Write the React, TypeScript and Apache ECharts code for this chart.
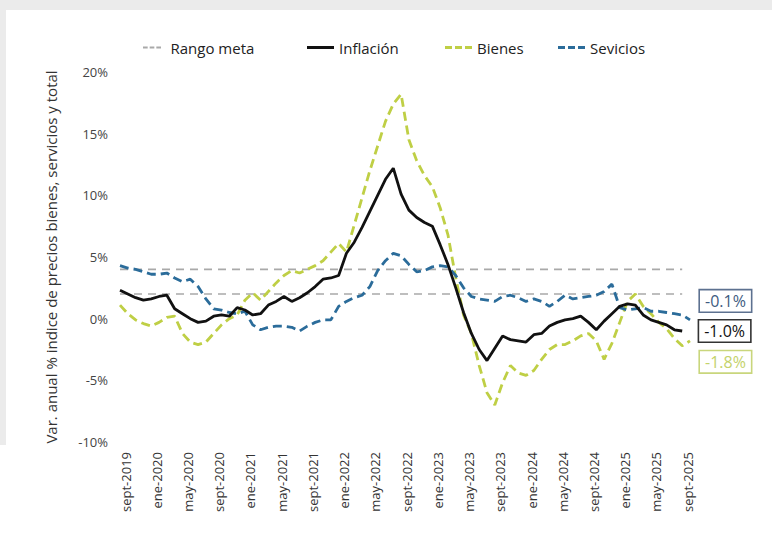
import React, { useEffect, useRef } from "react";
import * as echarts from "echarts";

const monthNames = ["ene", "feb", "mar", "abr", "may", "jun", "jul", "ago", "sept", "oct", "nov", "dic"];
// Sept 2019 .. Oct 2025 (74 months)
const categories: string[] = [];
for (let k = 0; k < 74; k++) {
  const m = (8 + k) % 12;
  const y = 2019 + Math.floor((8 + k) / 12);
  categories.push(`${monthNames[m]}-${y}`);
}

const inflacion: (number | null)[] = [
  2.3, 2.0, 1.7, 1.5, 1.6, 1.8, 1.9, 0.8, 0.4, 0.0,
  -0.3, -0.2, 0.2, 0.3, 0.2, 0.9, 0.7, 0.3, 0.4, 1.1,
  1.4, 1.8, 1.4, 1.7, 2.1, 2.6, 3.2, 3.3, 3.5, 5.3,
  6.2, 7.4, 8.7, 10.0, 11.3, 12.2, 10.1, 8.8, 8.2, 7.8,
  7.5, 6.0, 4.4, 2.5, 0.5, -1.2, -2.5, -3.4, -2.4, -1.4,
  -1.7, -1.8, -1.9, -1.3, -1.2, -0.6, -0.3, -0.1, 0.0, 0.2,
  -0.3, -0.9, -0.2, 0.4, 1.0, 1.2, 1.1, 0.3, -0.1, -0.3,
  -0.5, -0.9, -1.0, null,
];

const bienes: number[] = [
  1.1, 0.4, -0.1, -0.4, -0.6, -0.3, 0.1, 0.2, -1.2, -1.9,
  -2.1, -1.9, -1.2, -0.5, 0.0, 0.3, 1.5, 2.1, 1.5, 2.2,
  2.9, 3.5, 3.9, 3.7, 4.0, 4.3, 4.7, 5.4, 6.1, 5.4,
  7.6, 9.8, 12.0, 14.0, 16.0, 17.4, 18.2, 14.5, 12.8, 11.6,
  10.7, 9.0, 6.8, 3.3, 0.3, -1.2, -3.8, -6.0, -7.0, -5.2,
  -3.8, -4.4, -4.6, -4.2, -3.3, -2.5, -2.1, -2.1, -1.8, -1.4,
  -1.2, -1.8, -3.3, -2.0, -0.3, 1.4, 2.0, 1.0, 0.4, -0.3,
  -0.8, -1.6, -2.2, -1.8,
];

const servicios: number[] = [
  4.3, 4.1, 4.0, 3.8, 3.6, 3.6, 3.7, 3.3, 3.0, 3.2,
  2.6, 1.6, 0.8, 0.7, 0.5, 0.4, 0.6, -0.5, -0.9, -0.7,
  -0.6, -0.6, -0.7, -1.0, -0.6, -0.3, -0.1, -0.1, 1.0, 1.4,
  1.7, 1.9, 2.6, 3.9, 4.7, 5.3, 5.1, 4.4, 3.8, 3.9,
  4.2, 4.3, 4.2, 3.5, 2.5, 1.8, 1.6, 1.5, 1.4, 1.8,
  1.9, 1.7, 1.4, 1.6, 1.4, 1.0, 1.4, 1.9, 1.6, 1.7,
  1.8, 1.9, 2.2, 2.8, 0.9, 0.7, 0.8, 0.9, 0.6, 0.6,
  0.5, 0.4, 0.3, -0.1,
];

const rangoMetaSup = 4;
const rangoMetaInf = 2;
const yTicks = { min: -10, max: 20, interval: 5 };
const legendNames = ["Rango meta", "Inflación", "Bienes", "Sevicios"];

const FONT = "'Open Sans', sans-serif";
const C_BIENES = "#bfcf45";
const C_SERV = "#2b6c9a";
const C_META = "#a9a9a9";
const C_INF = "#111111";

const DASH_ICON = "path://M0,0h7v3h-7z M10,0h7v3h-7z M20,0h7v3h-7z";
const SOLID_ICON = "path://M0,0h27v3h-27z";

export default function App() {
  const ref = useRef<HTMLDivElement>(null);
  useEffect(() => {
    if (!ref.current) return;
    const chart = echarts.init(ref.current, null, { renderer: "svg" });
    const metaLine = (v: number) =>
      categories.map((_, i) => (i <= 72 ? v : null));
    const pct = (p: any) => `${Number(p.value).toFixed(1)}%`;
    const legendLefts = [138, 302, 440, 553];
    const legendIcons = [DASH_ICON, SOLID_ICON, DASH_ICON, DASH_ICON];
    const legendIconH = [2, 3, 3, 3];
    const endLabelBase = {
      show: true,
      formatter: pct,
      fontSize: 16,
      fontFamily: FONT,
      borderWidth: 1.6,
      padding: [3, 5, 2, 5],
      backgroundColor: "#fff",
    };
    chart.setOption({
      animation: false,
      backgroundColor: "#ffffff",
      textStyle: { fontFamily: FONT },
      graphic: [
        { type: "rect", left: 0, top: 0, shape: { width: 772, height: 10 }, style: { fill: "#ebebeb" }, silent: true },
        { type: "rect", left: 0, top: 0, shape: { width: 6, height: 445 }, style: { fill: "#ebebeb" }, silent: true },
      ],
      legend: legendNames.map((n, k) => ({
        left: legendLefts[k],
        top: 35,
        itemWidth: 27,
        itemHeight: legendIconH[k],
        itemGap: 0,
        textStyle: { fontSize: 15, color: "#222", fontFamily: FONT },
        data: [{ name: n, icon: legendIcons[k] }],
      })),
      grid: { left: 120, right: 82, top: 72, bottom: 98, containLabel: false },
      xAxis: {
        type: "category",
        data: categories,
        boundaryGap: false,
        axisLine: { show: false },
        axisTick: { show: false },
        axisLabel: {
          interval: 3,
          rotate: 90,
          margin: 10,
          fontSize: 13,
          color: "#333",
          fontFamily: FONT,
          verticalAlign: "top",
          lineHeight: 11,
        },
        splitLine: { show: false },
      },
      yAxis: {
        type: "value",
        min: yTicks.min,
        max: yTicks.max,
        interval: yTicks.interval,
        name: "Var. anual % indice de precios bienes, servicios y total",
        nameLocation: "middle",
        nameGap: 62,
        nameTruncate: { maxWidth: 600 },
        nameTextStyle: {
          fontSize: 15,
          color: "#333",
          fontFamily: FONT,
          width: 600,
          overflow: "none",
        },
        axisLine: { show: false },
        axisTick: { show: false },
        splitLine: { show: false },
        axisLabel: {
          formatter: (v: number) => `${v}%`,
          fontSize: 13,
          color: "#444",
          margin: 12,
          fontFamily: FONT,
        },
      },
      series: [
        {
          name: "Rango meta",
          type: "line",
          data: metaLine(rangoMetaSup),
          symbol: "none",
          lineStyle: { color: C_META, width: 1.6, type: [8, 6] },
          itemStyle: { color: C_META },
        },
        {
          name: "Rango meta",
          type: "line",
          data: metaLine(rangoMetaInf),
          symbol: "none",
          lineStyle: { color: C_META, width: 1.6, type: [8, 6] },
          itemStyle: { color: C_META },
        },
        {
          name: "Bienes",
          type: "line",
          data: bienes,
          symbol: "none",
          lineStyle: { color: C_BIENES, width: 2.8, type: [9, 5] },
          itemStyle: { color: C_BIENES },
          endLabel: {
            ...endLabelBase,
            offset: [2, 21],
            color: "#c4d26a",
            borderColor: "#c9d67c",
          },
        },
        {
          name: "Sevicios",
          type: "line",
          data: servicios,
          symbol: "none",
          lineStyle: { color: C_SERV, width: 2.8, type: [9, 5] },
          itemStyle: { color: C_SERV },
          endLabel: {
            ...endLabelBase,
            offset: [2, -19],
            color: "#3e5b80",
            borderColor: "#5d7190",
          },
        },
        {
          name: "Inflación",
          type: "line",
          data: inflacion,
          symbol: "none",
          lineStyle: { color: C_INF, width: 2.8 },
          itemStyle: { color: C_INF },
          endLabel: {
            ...endLabelBase,
            offset: [9, 0],
            color: "#111",
            borderColor: "#333",
          },
        },
      ],
    });
    return () => chart.dispose();
  }, []);
  return (
    <div
      ref={ref}
      style={{ position: "absolute", left: 0, top: 0, width: 772, height: 540 }}
    />
  );
}
